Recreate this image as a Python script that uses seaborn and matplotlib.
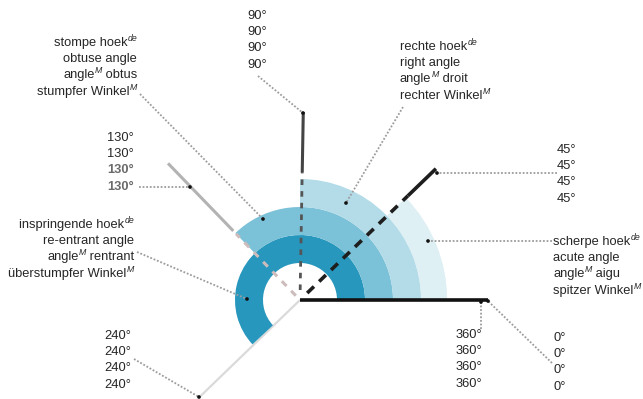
import re
import numpy as np
import pandas as pd
import matplotlib
matplotlib.use("Agg")
import matplotlib.pyplot as plt
from matplotlib.patches import Wedge
import seaborn as sns

# ------------------------------------------------------------
# DATA
# ------------------------------------------------------------
# angle of each ray as it is drawn in the picture (deg, counter-clockwise)
ray_names = ["0", "45", "90", "130", "240"]
ray_angles = [0, 44, 89, 134, 224]

# rings: re-entrant, obtuse, right, acute (angle span as drawn)
ring_names = ["re-entrant", "obtuse", "right", "acute"]
ring_span = [223, 134, 90, 44]
ring_colors = ["#2797bd", "#7bc1d7", "#b3dce8", "#dff0f5"]

terms_nl = ["scherpe hoek^{de}", "rechte hoek^{de}", "stompe hoek^{de}", "inspringende hoek^{de}"]
terms_en = ["acute angle", "right angle", "obtuse angle", "re-entrant angle"]
terms_fr = ["angle^{M} aigu", "angle^{M} droit", "angle^{M} obtus", "angle^{M} rentrant"]
terms_de = ["spitzer Winkel^{M}", "rechter Winkel^{M}", "stumpfer Winkel^{M}",
            "überstumpfer Winkel^{M}"]

degree_labels = ["0°", "45°", "90°", "130°", "240°", "360°"]

# ------------------------------------------------------------
# STYLE
# ------------------------------------------------------------
sns.set_theme(style="white")
plt.rcParams["font.family"] = ["Liberation Sans", "DejaVu Sans"]

TXT = "#262626"
LEAD = "#9c9c9c"
FS = 9.3

fig = plt.figure(figsize=(6.43, 3.99), dpi=100)
ax = fig.add_axes([0, 0, 1, 1])

cx, cy = 300, 300


def pt(angle, r):
    a = np.deg2rad(angle)
    return cx + r * np.cos(a), cy - r * np.sin(a)


# ------------------------------------------------------------
# RINGS (widest span innermost)
# ------------------------------------------------------------
ring_r = [(37, 65), (65, 93), (93, 121), (121, 147)]
for span, col, (r0, r1) in zip(ring_span, ring_colors, ring_r):
    ax.add_patch(Wedge((cx, cy), r1, -span, 0, width=r1 - r0,
                       facecolor=col, edgecolor="none", zorder=2))
# soft extension of the acute ring toward the axis
ax.add_patch(Wedge((cx, cy), 147, -44, 0, width=147 - 117,
                   facecolor=ring_colors[3], edgecolor="none", zorder=1.5))

# ------------------------------------------------------------
# RAYS
# ------------------------------------------------------------
ang = dict(zip(ray_names, ray_angles))

# 240 ray - faint, under the rings
x0, y0 = pt(ang["240"], 0)
x1, y1 = pt(ang["240"], 140)
ax.plot([x0, x1], [y0, y1], color="#dadada", lw=1.6, zorder=1, solid_capstyle="butt")

# 130 ray
x0, y0 = pt(ang["130"], 96)
x1, y1 = pt(ang["130"], 190)
ax.plot([x0, x1], [y0, y1], color="#b3b3b3", lw=2.2, zorder=1, solid_capstyle="butt")
x0, y0 = pt(ang["130"], 6)
x1, y1 = pt(ang["130"], 92)
ax.plot([x0, x1], [y0, y1], color="#cdbcbc", lw=2.2, ls=(0, (2.2, 2.2)), zorder=4)

# 90 ray
x0, y0 = pt(ang["90"], 10)
x1, y1 = pt(ang["90"], 128)
ax.plot([x0, x1], [y0, y1], color="#555555", lw=2.0, ls=(0, (2.0, 2.2)), zorder=4)
x0, y0 = pt(ang["90"], 128)
x1, y1 = pt(ang["90"], 188)
ax.plot([x0, x1], [y0, y1], color="#444444", lw=2.2, zorder=4, solid_capstyle="butt")

# 45 ray
x0, y0 = pt(ang["45"], 10)
x1, y1 = pt(ang["45"], 150)
ax.plot([x0, x1], [y0, y1], color="#1e1e1e", lw=2.6, ls=(0, (2.6, 2.0)), zorder=4)
x0, y0 = pt(ang["45"], 150)
x1, y1 = pt(ang["45"], 189)
ax.plot([x0, x1], [y0, y1], color="#1e1e1e", lw=2.6, zorder=4, solid_capstyle="butt")

# 0 / 360 ray
x0, y0 = pt(ang["0"], 0)
x1, y1 = pt(ang["0"], 188)
ax.plot([x0, x1], [y0, y1], color="#111111", lw=2.6, zorder=5, solid_capstyle="butt")

# ------------------------------------------------------------
# LEADERS + DOTS
# ------------------------------------------------------------
leaders = [
    ((258, 76), (303, 113)),     # 90
    ((140, 94), (263, 219)),     # stompe hoek
    ((403, 107), (346, 203)),    # rechte hoek
    ((139, 187), (190, 187)),    # 130
    ((557, 173), (437, 173)),    # 45
    ((552, 241), (428, 241)),    # scherpe hoek
    ((137, 252), (247, 299)),    # inspringende hoek
    ((134, 359), (199, 397)),    # 240
    ((481, 329), (481, 302)),    # 360
    ((552, 363), (488, 301)),    # 0
]
for (xa, ya), (xb, yb) in leaders:
    ax.plot([xa, xb], [ya, yb], color=LEAD, lw=1.3, ls=(0, (1.0, 1.0)), zorder=3)

dots = pd.DataFrame({
    "x": [b[0] for _, b in leaders],
    "y": [b[1] for _, b in leaders],
})
sns.scatterplot(data=dots, x="x", y="y", ax=ax, s=7, color="#111111",
                edgecolor="none", zorder=6, legend=False)
ax.set_xlim(0, 643)
ax.set_ylim(399, 0)
ax.set_aspect("equal")
ax.axis("off")

# ------------------------------------------------------------
# TEXT BLOCKS  (superscripts as their own small italic texts)
# ------------------------------------------------------------
STEP = 16.2
SUP_FS = FS * 0.68
renderer = fig.canvas.get_renderer()


def text_w(s, **kw):
    t = ax.text(0, 0, s, **kw)
    w = t.get_window_extent(renderer).width
    t.remove()
    return w


def draw_line(s, x, y, ha, color=TXT, weight="normal"):
    parts = re.split(r"\^\{(\w+)\}", s)   # even: normal text, odd: superscript
    kws = []
    for k, p in enumerate(parts):
        if not p:
            continue
        if k % 2:
            kws.append((p, dict(fontsize=SUP_FS, style="italic", color=color), -4.5))
        else:
            kws.append((p, dict(fontsize=FS, color=color, fontweight=weight), 0))
    widths = [text_w(p, **kw) for p, kw, _ in kws]
    xx = x - sum(widths) if ha == "right" else x
    for (p, kw, dy), w in zip(kws, widths):
        ax.text(xx, y + dy, p, ha="left", va="center", zorder=7, **kw)
        xx += w


def block(lines, x, y, ha, colors=None, weights=None):
    for i, s in enumerate(lines):
        draw_line(s, x, y + i * STEP, ha,
                  color=(colors[i] if colors else TXT),
                  weight=(weights[i] if weights else "normal"))


def term_lines(i):
    return [terms_nl[i], terms_en[i], terms_fr[i], terms_de[i]]


deg = dict(zip(["0", "45", "90", "130", "240", "360"], degree_labels))

block([deg["90"]] * 4, 247, 16, "left")
block([deg["45"]] * 4, 557, 150, "left")
block([deg["130"]] * 4, 134, 138, "right",
      colors=[TXT, TXT, "#6a6a6a", "#6a6a6a"],
      weights=["normal", "normal", "bold", "bold"])
block([deg["240"]] * 4, 131, 336, "right")
block([deg["360"]] * 4, 482, 335, "right")
block([deg["0"]] * 4, 553, 338, "left")

block(term_lines(2), 137, 43, "right")   # stompe hoek
block(term_lines(1), 400, 47, "left")    # rechte hoek
block(term_lines(0), 553, 242, "left")   # scherpe hoek
block(term_lines(3), 134, 225, "right")  # inspringende hoek

fig.savefig("out.png", dpi=100)
